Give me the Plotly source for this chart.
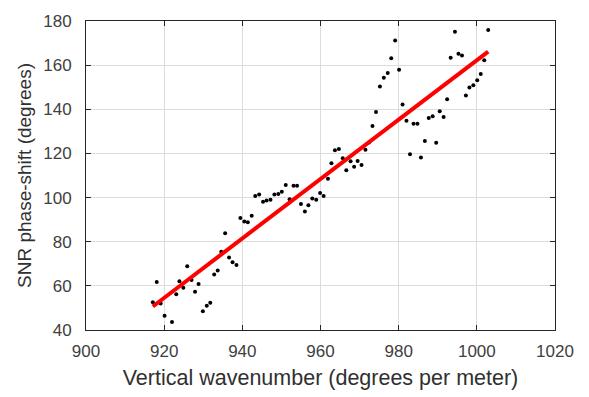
import numpy as np
import plotly.graph_objects as go

wavenumber = [917.1, 918.1, 919.1, 920.1, 922.0, 923.1, 923.9, 924.9, 925.9, 927.0,
              927.9, 928.8, 929.9, 930.9, 931.8, 932.8, 933.7, 934.6, 935.6, 936.6,
              937.5, 938.5, 939.5, 940.5, 941.4, 942.4, 943.3, 944.3, 945.3, 946.2,
              947.2, 948.2, 949.2, 950.1, 951.1, 952.1, 953.1, 954.0, 955.0, 956.0,
              956.9, 957.9, 958.9, 959.9, 960.8, 961.9, 962.8, 963.7, 964.7, 965.7,
              966.6, 967.7, 968.6, 969.5, 970.5, 971.5, 972.4, 973.3, 974.2, 975.2,
              976.2, 977.2, 978.1, 979.1, 980.1, 981.0, 982.0, 982.9, 983.8, 984.8,
              985.7, 986.7, 987.7, 988.7, 989.6, 990.5, 991.5, 992.4, 993.3, 994.4,
              995.3, 996.2, 997.2, 998.1, 999.1, 1000.1, 1001.0, 1001.9, 1002.9]
phase_shift = [52.6, 61.8, 52.0, 46.5, 43.6, 56.2, 62.1, 59.1, 68.9, 62.6,
               57.3, 60.8, 48.5, 51.0, 52.3, 65.2, 67.0, 75.5, 83.8, 72.9,
               70.7, 69.5, 90.7, 89.2, 88.8, 91.8, 100.7, 101.4, 98.1, 98.7,
               99.0, 101.4, 101.6, 102.6, 105.7, 99.2, 105.3, 105.3, 97.1, 93.7,
               96.5, 99.6, 99.0, 102.1, 100.7, 108.5, 115.5, 121.4, 122.0, 117.8,
               112.4, 116.4, 114.0, 116.6, 114.8, 121.7, 125.0, 132.4, 138.8, 150.3,
               154.3, 156.4, 163.1, 171.2, 157.9, 142.2, 134.8, 119.6, 133.4, 133.4,
               118.2, 125.6, 136.0, 136.8, 124.8, 139.1, 136.5, 144.5, 163.4, 175.1,
               165.2, 164.4, 146.3, 149.9, 150.9, 153.2, 156.0, 162.2, 175.9]

x_ticks = [900, 920, 940, 960, 980, 1000, 1020]
y_ticks = [40, 60, 80, 100, 120, 140, 160, 180]

xa = np.array(wavenumber)
ya = np.array(phase_shift)
slope, intercept = np.polyfit(xa, ya, 1)
fit_x = np.array([xa.min(), xa.max()])
fit_y = slope * fit_x + intercept

fig = go.Figure()
fig.add_trace(go.Scatter(x=wavenumber, y=phase_shift, mode="markers",
                         marker=dict(color="black", size=4), showlegend=False))
fig.add_trace(go.Scatter(x=fit_x, y=fit_y, mode="lines",
                         line=dict(color="#ff0000", width=4), showlegend=False))

FONT = "Liberation Sans, Arial, sans-serif"
axis_common = dict(showgrid=True, gridcolor="#dcdcdc", gridwidth=1,
                   showline=True, linecolor="#262626", linewidth=1,
                   mirror="ticks", ticks="inside", ticklen=5, tickcolor="#262626",
                   zeroline=False,
                   tickfont=dict(family=FONT, size=17, color="#404040"))

fig.update_layout(
    width=589, height=397,
    margin=dict(l=86, r=34, t=16, b=66),
    paper_bgcolor="white", plot_bgcolor="white",
    font=dict(family=FONT, color="#262626"),
    xaxis=dict(range=[900, 1020], tickvals=x_ticks, ticklabelstandoff=6, **axis_common,
               title=dict(text="Vertical wavenumber (degrees per meter)",
                          font=dict(size=21.5, color="#303030"), standoff=9)),
    yaxis=dict(range=[40, 180], tickvals=y_ticks, ticklabelstandoff=10, **axis_common,
               title=dict(text="SNR phase-shift (degrees)",
                          font=dict(size=19, color="#303030"), standoff=6)),
)

fig.write_html("out.html")
